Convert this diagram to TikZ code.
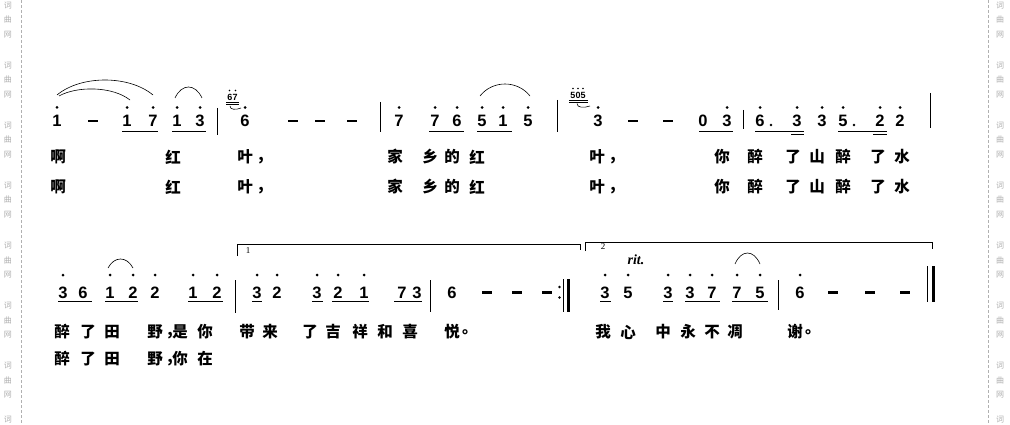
\documentclass[tikz,border=0pt]{standalone}
\usepackage{fontspec}
\newfontfamily\cjkf{Noto Sans CJK SC}
\newfontfamily\numf{Liberation Sans}
\newfontfamily\serf{Liberation Serif}
\definecolor{wmgray}{HTML}{B0B0B0}
\tikzset{
  nt/.style={font=\numf\bfseries\fontsize{16.5}{16.5}\selectfont, inner sep=0pt, anchor=center},
  gr/.style={font=\numf\bfseries\fontsize{9}{9}\selectfont, inner sep=0pt},
  vn/.style={font=\serf\fontsize{9}{9}\selectfont, inner sep=0pt},
  ritf/.style={font=\serf\bfseries\itshape\fontsize{14}{14}\selectfont, inner sep=0pt},
  lyr/.style={font=\cjkf\bfseries\fontsize{15.5}{15.5}\selectfont, inner sep=0pt},
  wm/.style={font=\cjkf\fontsize{8}{8}\selectfont, text=wmgray, inner sep=0pt},
  uline/.style={line width=0.9pt},
  barline/.style={line width=0.9pt},
  slur/.style={line width=0.6pt},
  jdash/.style={line width=2.2pt},
  volta/.style={line width=0.7pt},
}
\newcommand\jn[2]{\node[nt] at (#1,\nY) {#2};}
\newcommand\jh[2]{\node[nt] at (#1,\nY) {#2};\fill (#1,\dY) circle (1.5);}
\newcommand\uln[2]{\draw[uline] (#1,\uY) -- (#2,\uY);}
\newcommand\uuln[2]{\draw[uline] (#1,{\uY+3.5}) -- (#2,{\uY+3.5});}
\newcommand\jdsh[1]{\draw[jdash] ({#1-5},\nY) -- ({#1+5},\nY);}
\newcommand\brl[3]{\draw[barline] (#1,#2) -- (#1,#3);}
\newcommand\slr[5]{\draw[slur] (#1,#2) .. controls ({#1+(#3-#1)*0.25},{(#5-0.125*(#2+#4))/0.75}) and ({#1+(#3-#1)*0.75},{(#5-0.125*(#2+#4))/0.75}) .. (#3,#4);}
\newcommand\ly[3]{\node[lyr] at (#1,#2) {#3};}
\begin{document}
\begin{tikzpicture}[x=1pt,y=-1pt]
\useasboundingbox (0,0) rectangle (1010,425);
\fill[white] (0,0) rectangle (1010,425);
% watermark
\draw[wmgray, dash pattern=on 3pt off 2pt, line width=0.6pt] (21,0) -- (21,425);
\draw[wmgray, dash pattern=on 3pt off 2pt, line width=0.6pt] (988,0) -- (988,425);
\foreach \k in {0,...,6}{
  \node[wm] at (8,{6+60*\k}) {词};
  \node[wm] at (8,{20+60*\k}) {曲};
  \node[wm] at (8,{35+60*\k}) {网};
  \node[wm] at (1000,{6+60*\k}) {词};
  \node[wm] at (1000,{20+60*\k}) {曲};
  \node[wm] at (1000,{35+60*\k}) {网};
}
\node[wm] at (8,420) {词};
\node[wm] at (1000,420) {词};
% ---------- line 1 ----------
\def\nY{121}\def\dY{107.5}\def\uY{131}
\jh{57}{1} \jdsh{93} \jh{127}{1} \jh{153}{7} \uln{122}{158}
\jh{177}{1} \jh{200}{3} \uln{172}{206}
\brl{217}{108}{135}
\node[gr] (g1) at (232.5,97) {67};
\fill (229.5,90.5) circle (0.8); \fill (235.5,90.5) circle (0.8);
\draw[line width=0.6pt] (226,102.5) -- (239,102.5);
\draw[line width=0.6pt] (226,104.8) -- (239,104.8);
\draw[slur] (230,106) .. controls (230,110) and (236,110) .. (241,108);
\jh{245}{6} \jdsh{293} \jdsh{320} \jdsh{352}
\brl{380}{102}{132}
\jh{399}{7} \jh{435}{7} \jh{457}{6} \uln{429}{464}
\jh{482}{5} \jh{503}{1} \uln{477}{512} \jh{528}{5}
\brl{557}{100}{132}
\node[gr] (g2) at (578,95) {505};
\fill (573,88.5) circle (0.8); \fill (578,88.5) circle (0.8); \fill (583,88.5) circle (0.8);
\draw[line width=0.6pt] (569,100) -- (588,100);
\draw[line width=0.6pt] (569,102.3) -- (588,102.3);
\draw[slur] (577,103.5) .. controls (577,108) and (584,108) .. (590,106);
\jh{598}{3} \jdsh{633} \jdsh{668}
\jn{703}{0} \jh{727}{3} \uln{699}{733}
\brl{743}{110}{129}
\jh{760}{6} \fill (771,125) circle (1.3);
\jh{797}{3} \uln{755}{804} \uuln{791}{804}
\jh{822}{3}
\jh{843}{5} \fill (854,125) circle (1.3);
\jh{880}{2} \uln{838}{887} \uuln{873}{887}
\jh{900}{2}
\brl{930}{93}{128}
\slr{57}{95}{153}{95}{80}
\slr{59}{96}{130}{100}{89}
\slr{175}{98}{202}{98}{87}
\slr{480}{96}{530}{96}{84}
% lyrics line 1
\foreach \yy in {157,187}{
  \ly{58}{\yy}{啊} \ly{173}{\yy}{红} \ly{245}{\yy}{叶} \ly{261}{\yy+4}{,}
  \ly{395}{\yy}{家} \ly{430}{\yy}{乡} \ly{452}{\yy}{的} \ly{477}{\yy}{红}
  \ly{597}{\yy}{叶} \ly{613}{\yy+4}{,}
  \ly{722}{\yy}{你} \ly{755}{\yy}{醉} \ly{793}{\yy}{了} \ly{817}{\yy}{山}
  \ly{843}{\yy}{醉} \ly{878}{\yy}{了} \ly{902}{\yy}{水}
}
% ---------- line 2 ----------
\def\nY{292.5}\def\dY{275}\def\uY{301.5}
\jh{63}{3} \jn{83}{6} \uln{58}{92}
\jh{110}{1} \jh{133}{2} \uln{105}{138}
\jh{155}{2}
\jh{193}{1} \jh{217}{2} \uln{188}{223}
\brl{235}{280}{313}
\jh{257}{3} \uln{252}{262} \jh{277}{2}
\jh{317}{3} \uln{312}{323}
\jh{338}{2} \jh{364}{1} \uln{332}{369}
\jn{402}{7} \jn{417}{3} \uln{394}{422}
\brl{430}{280}{312}
\jn{452}{6} \jdsh{487} \jdsh{517} \jdsh{547}
\fill (559.5,287) circle (1.4); \fill (559.5,297.5) circle (1.4);
\draw[line width=0.9pt] (563.5,279) -- (563.5,312);
\draw[line width=3pt] (568.5,279) -- (568.5,312);
\jh{605}{3} \uln{600}{611} \jh{628}{5}
\jh{668}{3} \uln{663}{673}
\jh{690}{3} \jh{712}{7} \uln{685}{720}
\jh{737}{7} \jh{760}{5} \uln{732}{768}
\brl{778}{280}{310}
\jh{800}{6} \jdsh{833} \jdsh{870} \jdsh{905}
\draw[line width=1.2pt] (927.5,266) -- (927.5,302);
\draw[line width=3pt] (933,266) -- (933,302);
\slr{108}{268}{133}{268}{259}
\slr{735}{264}{760}{264}{253}
% voltas
\draw[volta] (237,256) -- (237,244) -- (580,244) -- (580,250);
\node[vn] (v1) at (248,251) {1};
\draw[volta] (585,251) -- (585,242) -- (932,242) -- (932,249);
\node[vn] (v2) at (603,247) {2};
\node[ritf] (rit) at (636,260) {rit.};
% lyrics line 2
\foreach \yy in {332,359}{
  \ly{62}{\yy}{醉} \ly{88}{\yy}{了} \ly{112}{\yy}{田} \ly{155}{\yy}{野} \ly{170}{\yy+4}{,}
}
\ly{180}{332}{是} \ly{205}{332}{你}
\ly{247}{332}{带} \ly{270}{332}{来} \ly{310}{332}{了} \ly{333}{332}{吉}
\ly{360}{332}{祥} \ly{385}{332}{和} \ly{410}{332}{喜} \ly{452}{332}{悦}
\node[lyr, anchor=west] at (462,332) {。};
\ly{603}{332}{我} \ly{628}{332}{心} \ly{663}{332}{中} \ly{688}{332}{永}
\ly{712}{332}{不} \ly{735}{332}{凋} \ly{795}{332}{谢}
\node[lyr, anchor=west] at (805,332) {。};
\ly{180}{359}{你} \ly{205}{359}{在}
\end{tikzpicture}
\end{document}
